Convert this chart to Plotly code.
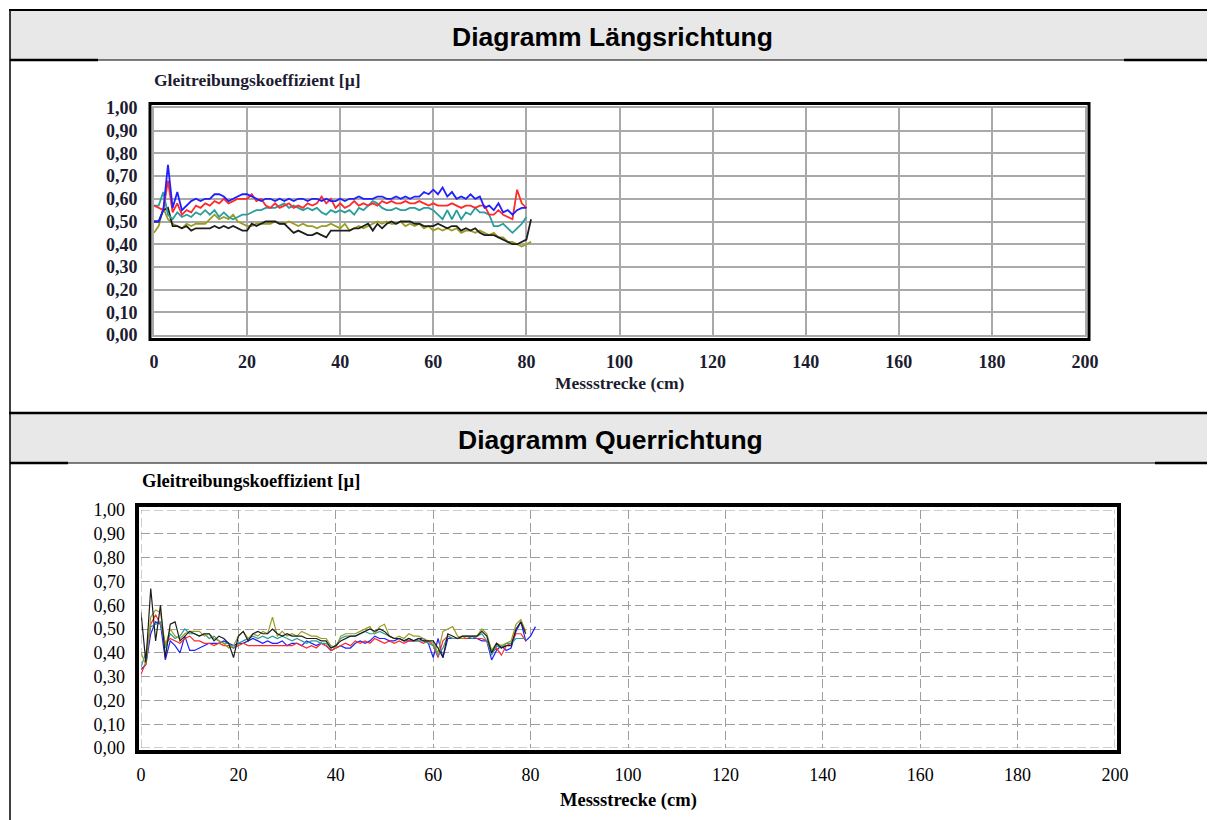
import plotly.graph_objects as go

# ---------------- data ----------------
strecke = list(range(0, 82))  # Messstrecke (cm)

# Diagramm Längsrichtung
laengs_blau = [0.50, 0.50, 0.55, 0.75, 0.56, 0.63, 0.55, 0.57, 0.59, 0.60,
               0.59, 0.60, 0.60, 0.62, 0.62, 0.61, 0.59, 0.60, 0.61, 0.62,
               0.62, 0.61, 0.60, 0.59, 0.60, 0.60, 0.59, 0.60, 0.59, 0.60,
               0.59, 0.60, 0.60, 0.59, 0.60, 0.60, 0.59, 0.60, 0.59, 0.59,
               0.60, 0.59, 0.60, 0.60, 0.61, 0.60, 0.60, 0.60, 0.61, 0.61,
               0.60, 0.60, 0.61, 0.60, 0.61, 0.60, 0.61, 0.61, 0.63, 0.62,
               0.64, 0.62, 0.65, 0.61, 0.63, 0.60, 0.61, 0.60, 0.62, 0.60,
               0.61, 0.56, 0.57, 0.55, 0.58, 0.54, 0.55, 0.53, 0.55, 0.56,
               0.56]
laengs_rot = [0.57, 0.56, 0.55, 0.68, 0.54, 0.58, 0.53, 0.55, 0.54, 0.57,
              0.56, 0.58, 0.57, 0.59, 0.58, 0.60, 0.58, 0.59, 0.60, 0.60,
              0.60, 0.62, 0.59, 0.60, 0.57, 0.56, 0.58, 0.56, 0.57, 0.58,
              0.56, 0.57, 0.56, 0.58, 0.57, 0.58, 0.61, 0.58, 0.60, 0.56,
              0.58, 0.56, 0.57, 0.59, 0.57, 0.58, 0.57, 0.58, 0.57, 0.59,
              0.58, 0.59, 0.58, 0.58, 0.59, 0.58, 0.58, 0.59, 0.58, 0.57,
              0.58, 0.57, 0.57, 0.57, 0.58, 0.57, 0.56, 0.57, 0.57, 0.56,
              0.57, 0.57, 0.53, 0.53, 0.55, 0.53, 0.52, 0.51, 0.64, 0.58,
              0.56]
laengs_tuerkis = [0.57, 0.57, 0.63, 0.53, 0.51, 0.54, 0.52, 0.53, 0.52, 0.54,
                  0.53, 0.55, 0.53, 0.55, 0.52, 0.54, 0.52, 0.51, 0.52, 0.53,
                  0.53, 0.54, 0.55, 0.55, 0.56, 0.56, 0.56, 0.57, 0.58, 0.56,
                  0.57, 0.56, 0.55, 0.56, 0.55, 0.56, 0.54, 0.53, 0.55, 0.54,
                  0.55, 0.54, 0.55, 0.53, 0.56, 0.55, 0.57, 0.59, 0.58, 0.56,
                  0.55, 0.55, 0.56, 0.55, 0.55, 0.56, 0.56, 0.55, 0.56, 0.56,
                  0.55, 0.53, 0.51, 0.55, 0.51, 0.55, 0.51, 0.54, 0.53, 0.56,
                  0.54, 0.54, 0.53, 0.48, 0.48, 0.49, 0.47, 0.45, 0.47, 0.49,
                  0.52]
laengs_schwarz = [0.50, 0.50, 0.55, 0.56, 0.48, 0.48, 0.47, 0.48, 0.46, 0.47,
                  0.47, 0.47, 0.47, 0.48, 0.47, 0.48, 0.47, 0.48, 0.47, 0.46,
                  0.46, 0.49, 0.48, 0.49, 0.50, 0.50, 0.50, 0.49, 0.49, 0.47,
                  0.45, 0.46, 0.45, 0.44, 0.44, 0.45, 0.44, 0.43, 0.46, 0.46,
                  0.46, 0.46, 0.46, 0.47, 0.47, 0.48, 0.49, 0.46, 0.49, 0.47,
                  0.49, 0.50, 0.49, 0.50, 0.50, 0.50, 0.49, 0.49, 0.48, 0.48,
                  0.48, 0.49, 0.48, 0.47, 0.48, 0.48, 0.46, 0.47, 0.46, 0.47,
                  0.45, 0.44, 0.44, 0.44, 0.43, 0.42, 0.41, 0.40, 0.40, 0.41,
                  0.42, 0.51]
laengs_oliv = [0.45, 0.48, 0.56, 0.51, 0.49, 0.48, 0.47, 0.49, 0.48, 0.49,
               0.49, 0.49, 0.51, 0.53, 0.51, 0.52, 0.51, 0.53, 0.50, 0.49,
               0.48, 0.48, 0.49, 0.49, 0.49, 0.49, 0.50, 0.49, 0.49, 0.50,
               0.49, 0.48, 0.49, 0.48, 0.48, 0.47, 0.48, 0.48, 0.49, 0.48,
               0.47, 0.49, 0.46, 0.47, 0.48, 0.47, 0.48, 0.49, 0.50, 0.49,
               0.50, 0.49, 0.49, 0.50, 0.48, 0.49, 0.48, 0.49, 0.47, 0.48,
               0.46, 0.47, 0.46, 0.47, 0.46, 0.47, 0.45, 0.46, 0.46, 0.45,
               0.46, 0.45, 0.44, 0.45, 0.43, 0.43, 0.41, 0.41, 0.40, 0.39,
               0.40, 0.41]

# Diagramm Querrichtung
quer_blau = [0.33, 0.35, 0.48, 0.53, 0.52, 0.37, 0.45, 0.43, 0.40, 0.47,
             0.41, 0.41, 0.42, 0.43, 0.44, 0.44, 0.44, 0.45, 0.44, 0.43,
             0.44, 0.44, 0.45, 0.46, 0.45, 0.44, 0.45, 0.44, 0.44, 0.45,
             0.43, 0.44, 0.44, 0.43, 0.45, 0.44, 0.43, 0.44, 0.43, 0.41,
             0.42, 0.43, 0.42, 0.42, 0.44, 0.45, 0.44, 0.45, 0.47, 0.46,
             0.46, 0.45, 0.45, 0.46, 0.45, 0.45, 0.45, 0.46, 0.46, 0.44,
             0.38, 0.46, 0.38, 0.46, 0.46, 0.46, 0.46, 0.46, 0.46, 0.46,
             0.45, 0.45, 0.37, 0.41, 0.43, 0.41, 0.42, 0.49, 0.53, 0.45,
             0.47, 0.51]
quer_rot = [0.31, 0.36, 0.52, 0.56, 0.52, 0.44, 0.46, 0.45, 0.44, 0.46,
            0.47, 0.45, 0.45, 0.44, 0.44, 0.43, 0.44, 0.43, 0.43, 0.42,
            0.43, 0.44, 0.43, 0.43, 0.43, 0.43, 0.43, 0.43, 0.43, 0.43,
            0.43, 0.43, 0.44, 0.43, 0.42, 0.43, 0.42, 0.44, 0.43, 0.41,
            0.42, 0.43, 0.44, 0.43, 0.45, 0.44, 0.45, 0.44, 0.46, 0.45,
            0.44, 0.45, 0.44, 0.45, 0.44, 0.45, 0.45, 0.45, 0.44, 0.45,
            0.43, 0.38, 0.45, 0.47, 0.46, 0.46, 0.46, 0.46, 0.47, 0.46,
            0.46, 0.45, 0.40, 0.42, 0.39, 0.43, 0.44, 0.48, 0.48, 0.45]
quer_tuerkis = [0.34, 0.40, 0.51, 0.52, 0.53, 0.42, 0.48, 0.46, 0.47, 0.50,
                0.48, 0.48, 0.47, 0.48, 0.46, 0.47, 0.45, 0.44, 0.44, 0.42,
                0.44, 0.45, 0.46, 0.47, 0.46, 0.47, 0.46, 0.47, 0.46, 0.47,
                0.46, 0.45, 0.46, 0.45, 0.44, 0.45, 0.45, 0.44, 0.44, 0.42,
                0.43, 0.46, 0.47, 0.47, 0.47, 0.48, 0.49, 0.48, 0.48, 0.49,
                0.48, 0.47, 0.46, 0.46, 0.45, 0.46, 0.45, 0.45, 0.45, 0.44,
                0.43, 0.39, 0.42, 0.47, 0.46, 0.46, 0.47, 0.47, 0.46, 0.47,
                0.48, 0.45, 0.39, 0.43, 0.42, 0.44, 0.44, 0.46, 0.46, 0.46]
quer_oliv = [0.40, 0.35, 0.55, 0.58, 0.57, 0.43, 0.50, 0.47, 0.46, 0.48,
             0.49, 0.49, 0.49, 0.47, 0.48, 0.46, 0.45, 0.44, 0.42, 0.43,
             0.47, 0.49, 0.46, 0.48, 0.47, 0.49, 0.48, 0.55, 0.47, 0.49,
             0.47, 0.48, 0.47, 0.49, 0.48, 0.47, 0.47, 0.46, 0.46, 0.43,
             0.42, 0.47, 0.48, 0.48, 0.48, 0.49, 0.50, 0.51, 0.48, 0.51,
             0.52, 0.47, 0.46, 0.47, 0.46, 0.48, 0.47, 0.47, 0.46, 0.45,
             0.44, 0.40, 0.49, 0.50, 0.51, 0.47, 0.46, 0.47, 0.47, 0.47,
             0.50, 0.48, 0.41, 0.44, 0.43, 0.44, 0.45, 0.52, 0.54, 0.49]
quer_schwarz = [0.57, 0.36, 0.67, 0.45, 0.60, 0.38, 0.52, 0.53, 0.45, 0.47,
                0.49, 0.48, 0.47, 0.48, 0.48, 0.45, 0.47, 0.46, 0.44, 0.38,
                0.47, 0.49, 0.45, 0.48, 0.49, 0.48, 0.48, 0.50, 0.48, 0.47,
                0.48, 0.47, 0.47, 0.47, 0.46, 0.46, 0.46, 0.45, 0.45, 0.42,
                0.43, 0.45, 0.46, 0.47, 0.47, 0.48, 0.49, 0.50, 0.49, 0.50,
                0.49, 0.47, 0.46, 0.46, 0.45, 0.46, 0.45, 0.46, 0.45, 0.45,
                0.45, 0.42, 0.38, 0.48, 0.47, 0.46, 0.47, 0.47, 0.47, 0.47,
                0.49, 0.47, 0.40, 0.44, 0.42, 0.43, 0.43, 0.50, 0.53, 0.48]

x_ticks = [0, 20, 40, 60, 80, 100, 120, 140, 160, 180, 200]
y_ticks = [0.0, 0.1, 0.2, 0.3, 0.4, 0.5, 0.6, 0.7, 0.8, 0.9, 1.0]

titel_oben = "Diagramm Längsrichtung"
titel_unten = "Diagramm Querrichtung"
y_titel = "Gleitreibungskoeffizient [µ]"
x_titel = "Messstrecke (cm)"

# ---------------- figure ----------------
W, H = 1215, 820
OFF = 8  # page body margin: the figure is drawn 8 px right/down in the window
def px(v):
    return (v - OFF) / W
def py(v):
    return 1 - (v - OFF) / H

BLAU, ROT, TUERKIS, OLIV, SCHWARZ = "#1f1fff", "#ff2a2a", "#2a9d9d", "#9c9c22", "#1e1e1e"

fig = go.Figure()

def add(y, color, width, xa, ya):
    fig.add_trace(go.Scatter(x=strecke[:len(y)], y=y, mode="lines",
                             line=dict(color=color, width=width),
                             xaxis=xa, yaxis=ya, showlegend=False,
                             hoverinfo="skip"))

for ser, col in [(laengs_oliv, OLIV), (laengs_schwarz, SCHWARZ),
                 (laengs_tuerkis, TUERKIS), (laengs_rot, ROT), (laengs_blau, BLAU)]:
    add(ser, col, 1.8, "x", "y")

for ser, col in [(quer_blau, BLAU), (quer_rot, ROT), (quer_tuerkis, TUERKIS),
                 (quer_oliv, OLIV), (quer_schwarz, SCHWARZ)]:
    add(ser, col, 1.2, "x2", "y2")

serif = "Liberation Serif, Times New Roman, serif"
sans = "Liberation Sans, Arial, sans-serif"

top_tick_font = dict(family=serif, size=18, color="#1c1c30", weight="bold")
bot_tick_font = dict(family=serif, size=18, color="#000000")
GRID_TOP = "#a9a9a9"
GRID_BOT = "#9e9e9e"

fig.update_layout(
    width=W, height=H, autosize=False,
    margin=dict(l=0, r=0, t=0, b=0, pad=0, autoexpand=False),
    paper_bgcolor="white", plot_bgcolor="white",
    separators=",.", showlegend=False,
    xaxis=dict(domain=[px(154), px(1085)], range=[0, 200], tickvals=x_ticks,
               showgrid=True, gridcolor=GRID_TOP, gridwidth=2,
               showline=True, mirror=True, linecolor=GRID_TOP, linewidth=2,
               zeroline=False, ticks="", ticklabelstandoff=9, automargin=False,
               tickfont=top_tick_font, anchor="y", fixedrange=True),
    yaxis=dict(domain=[py(335), py(108)], range=[0, 1], tickvals=y_ticks,
               tickformat=".2f",
               showgrid=True, gridcolor=GRID_TOP, gridwidth=2,
               showline=True, mirror=True, linecolor=GRID_TOP, linewidth=2,
               zeroline=False, ticks="", ticklabelstandoff=11, automargin=False,
               tickfont=top_tick_font, anchor="x", fixedrange=True),
    xaxis2=dict(domain=[px(141), px(1115)], range=[0, 200], tickvals=x_ticks,
                showgrid=True, gridcolor=GRID_BOT, gridwidth=1, griddash="9px,4px",
                showline=False, zeroline=False, ticks="", ticklabelstandoff=14,
                automargin=False,
                tickfont=bot_tick_font, anchor="y2", fixedrange=True),
    yaxis2=dict(domain=[py(748), py(510)], range=[0, 1], tickvals=y_ticks,
                tickformat=".2f",
                showgrid=True, gridcolor=GRID_BOT, gridwidth=1, griddash="9px,4px",
                showline=False, zeroline=False, ticks="", ticklabelstandoff=15,
                automargin=False,
                tickfont=bot_tick_font, anchor="x2", fixedrange=True),
)

shapes = []
# header bands
shapes.append(dict(type="rect", xref="paper", yref="paper", x0=px(10), x1=px(1223),
                   y0=py(60), y1=py(10), fillcolor="#e8e8e8", line=dict(width=0), layer="below"))
shapes.append(dict(type="rect", xref="paper", yref="paper", x0=px(10), x1=px(1223),
                   y0=py(463), y1=py(413), fillcolor="#e8e8e8", line=dict(width=0), layer="below"))

def hline(x0, x1, yv, w):
    shapes.append(dict(type="line", xref="paper", yref="paper", x0=px(x0), x1=px(x1),
                       y0=py(yv), y1=py(yv), line=dict(color="black", width=w)))

hline(9, 1223, 10, 2)
hline(10, 1223, 60, 1)
hline(10, 98, 60, 2.5)
hline(1124, 1223, 60, 2.5)
hline(9, 1223, 413, 2.5)
hline(10, 1223, 463, 1)
hline(10, 68, 463, 2.5)
hline(1155, 1223, 463, 2.5)
# left table border
shapes.append(dict(type="line", xref="paper", yref="paper", x0=px(10), x1=px(10),
                   y0=py(828), y1=py(9), line=dict(color="black", width=1.5)))
# dashed edge grid lines of the lower chart
for xv in (0, 200):
    shapes.append(dict(type="line", xref="x2", yref="y2", x0=xv, x1=xv, y0=0, y1=1,
                       line=dict(color=GRID_BOT, width=1, dash="9px,4px")))
for yv in (0, 1):
    shapes.append(dict(type="line", xref="x2", yref="y2", x0=0, x1=200, y0=yv, y1=yv,
                       line=dict(color=GRID_BOT, width=1, dash="9px,4px")))
# chart frames
shapes.append(dict(type="rect", xref="paper", yref="paper", x0=px(150), x1=px(1089),
                   y0=py(339.5), y1=py(103.5), line=dict(color="black", width=3)))
shapes.append(dict(type="rect", xref="paper", yref="paper", x0=px(137), x1=px(1119),
                   y0=py(752), y1=py(505), line=dict(color="black", width=4)))
fig.update_layout(shapes=shapes)

ann = []
ann.append(dict(text="<b>" + titel_oben + "</b>", xref="paper", yref="paper",
                x=px(612), y=py(37), xanchor="center", yanchor="middle", showarrow=False,
                font=dict(family=sans, size=26.5, color="black")))
ann.append(dict(text="<b>" + titel_unten + "</b>", xref="paper", yref="paper",
                x=px(610), y=py(440), xanchor="center", yanchor="middle", showarrow=False,
                font=dict(family=sans, size=26.5, color="black")))
ann.append(dict(text="<b>" + y_titel + "</b>", xref="paper", yref="paper",
                x=px(152), y=py(80), xanchor="left", yanchor="middle", showarrow=False,
                font=dict(family=serif, size=17.5, color="#1c1c30")))
ann.append(dict(text="<b>" + x_titel + "</b>", xref="paper", yref="paper",
                x=px(620), y=py(383), xanchor="center", yanchor="middle", showarrow=False,
                font=dict(family=serif, size=17.5, color="#1c1c30")))
ann.append(dict(text="<b>" + y_titel + "</b>", xref="paper", yref="paper",
                x=px(140), y=py(481), xanchor="left", yanchor="middle", showarrow=False,
                font=dict(family=serif, size=18.5, color="black")))
ann.append(dict(text="<b>" + x_titel + "</b>", xref="paper", yref="paper",
                x=px(628), y=py(800), xanchor="center", yanchor="middle", showarrow=False,
                font=dict(family=serif, size=18.5, color="black")))
fig.update_layout(annotations=ann)

fig.write_html("out.html")
